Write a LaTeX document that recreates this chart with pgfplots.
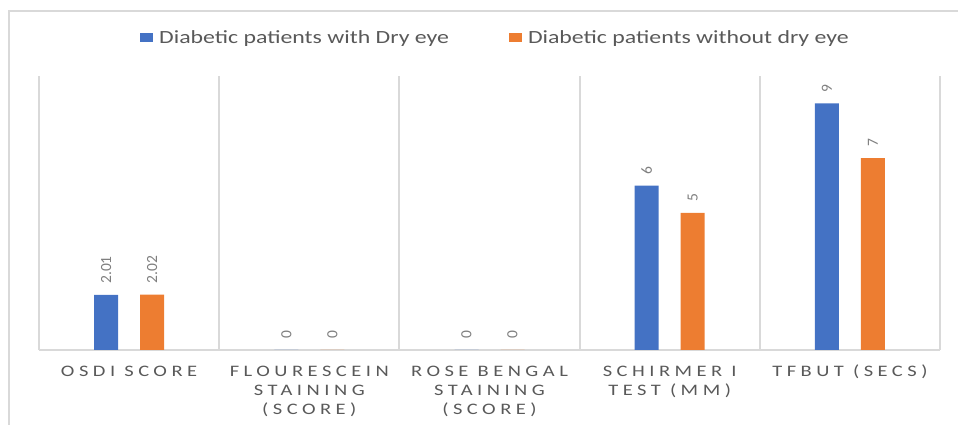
\documentclass[border=0pt]{standalone}
\usepackage{pgfplots}
\pgfplotsset{compat=1.18}
\usepackage{fontspec}
\setmainfont{Carlito}
\newfontfamily\catfont[LetterSpace=22]{Carlito}
\definecolor{cblue}{HTML}{4472C4}
\definecolor{corange}{HTML}{ED7D31}
\definecolor{gridc}{HTML}{D9D9D9}
\definecolor{txt}{HTML}{595959}
\definecolor{lbl}{HTML}{7F7F7F}
\newcommand{\legtxt}[1]{\scalebox{1.28}[1]{\fontsize{18.6}{20}\selectfont #1}}
\newcommand{\cat}[1]{\scalebox{1.28}[1]{\catfont\fontsize{16}{19}\selectfont\begin{tabular}{@{}c@{}}#1\end{tabular}}}
\begin{document}
\begin{tikzpicture}[x=1pt,y=1pt]
\path[use as bounding box] (0,0) rectangle (958,425);
\draw[gridc, line width=2pt] (9,0) -- (9,414) -- (958,414);
\begin{axis}[
  at={(39pt,75pt)}, anchor=south west,
  scale only axis, width=901pt, height=274pt,
  xmin=-0.5, xmax=4.5, ymin=0, ymax=10,
  axis x line*=bottom, axis y line=none,
  x axis line style={gridc, line width=2pt},
  xtick={0,1,2,3,4},
  xticklabels={\cat{OSDI SCORE},\cat{FLOURESCEIN\\STAINING\\(SCORE)},\cat{ROSE BENGAL\\STAINING\\(SCORE)},\cat{SCHIRMER I\\TEST (MM)},\cat{TFBUT (SECS)}},
  xticklabel style={text=txt, anchor=north, yshift=-10pt},
  major tick length=0pt, minor tick length=0pt,
  minor xtick={-0.5,0.5,1.5,2.5,3.5,4.5},
  xminorgrids, minor grid style={gridc, line width=2pt},
  ytick=\empty,
  ybar=22pt, bar width=24pt,
  /pgf/number format/assume math mode=true,
  nodes near coords={\pgfmathprintnumber{\pgfplotspointmeta}},
  every node near coord/.append style={rotate=90, anchor=west, font=\fontsize{15.5}{15.5}\selectfont, text=lbl, inner xsep=11pt, inner ysep=0pt},
  legend columns=2,
  legend style={draw=none, fill=none, at={(0.5066,1.139)}, anchor=center, text=txt, /tikz/every even column/.append style={column sep=58pt}},
  legend image code/.code={\fill[#1] (0pt,-4.5pt) rectangle (13pt,4.5pt); \path (17pt,0pt);},
]
\addplot[fill=cblue, draw=none] coordinates {(0,2.01) (1,0) (2,0) (3,6) (4,9)};
\addplot[fill=corange, draw=none] coordinates {(0,2.02) (1,0) (2,0) (3,5) (4,7)};
\legend{\legtxt{Diabetic patients with Dry eye},\legtxt{Diabetic patients without dry eye}}
\end{axis}
\end{tikzpicture}
\end{document}
